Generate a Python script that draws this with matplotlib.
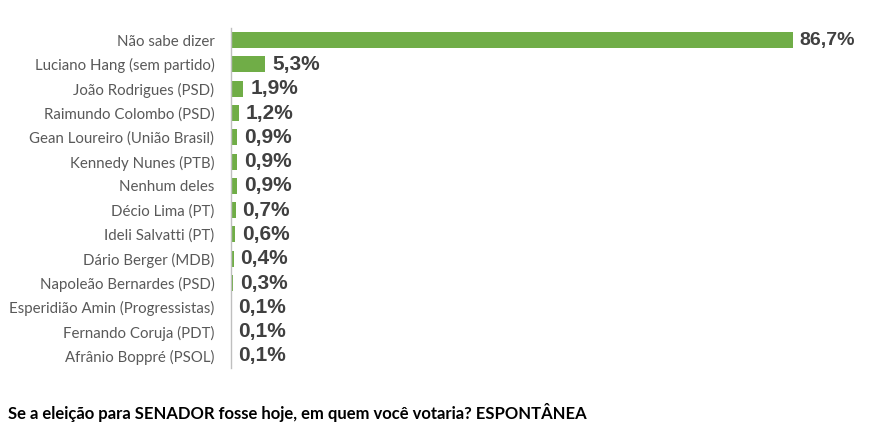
import matplotlib
matplotlib.use("Agg")
import matplotlib.pyplot as plt

# --- data
names = [
    "Não sabe dizer",
    "Luciano Hang (sem partido)",
    "João Rodrigues (PSD)",
    "Raimundo Colombo (PSD)",
    "Gean Loureiro (União Brasil)",
    "Kennedy Nunes (PTB)",
    "Nenhum deles",
    "Décio Lima (PT)",
    "Ideli Salvatti (PT)",
    "Dário Berger (MDB)",
    "Napoleão Bernardes (PSD)",
    "Esperidião Amin (Progressistas)",
    "Fernando Coruja (PDT)",
    "Afrânio Boppré (PSOL)",
]
values = [86.7, 5.3, 1.9, 1.2, 0.9, 0.9, 0.9, 0.7, 0.6, 0.4, 0.3, 0.1, 0.1, 0.1]
value_labels = ["86,7%", "5,3%", "1,9%", "1,2%", "0,9%", "0,9%", "0,9%",
                "0,7%", "0,6%", "0,4%", "0,3%", "0,1%", "0,1%", "0,1%"]
title = "Se a eleição para SENADOR fosse hoje, em quem você votaria? ESPONTÂNEA"

GREEN = "#70AD47"
LABEL_GRAY = "#595959"
VALUE_GRAY = "#404040"

fig = plt.figure(figsize=(8.8, 4.41), dpi=100)
ax = fig.add_axes([231 / 880, 1 - 368 / 441, (836 - 231) / 880, (368 - 28) / 441])

pos = list(range(len(names)))
ax.barh(pos, values, height=0.66, color=GREEN)
ax.set_ylim(len(names) - 0.5, -0.5)
ax.set_xlim(0, (836 - 231) / 6.48)

for i, (p, v, lab) in enumerate(zip(pos, values, value_labels)):
    # the first label is drawn smaller in the original
    size = 14 if i == 0 else 15
    ax.annotate(lab, (v, p), xytext=(5, 0), textcoords="offset points",
                va="center", ha="left", fontsize=size, fontweight="bold",
                family="Liberation Sans", color=VALUE_GRAY)

ax.set_yticks(pos)
ax.set_yticklabels(names, family="Lato", fontsize=10.8, color=LABEL_GRAY)
ax.tick_params(axis="y", length=0, pad=12)
ax.set_xticks([])
for side in ["top", "right", "bottom"]:
    ax.spines[side].set_visible(False)
ax.spines["left"].set_color("#BFBFBF")
ax.spines["left"].set_linewidth(1)

fig.text(8 / 880, 1 - 413 / 441, title, ha="left", va="center",
         family="Lato", fontweight="bold", fontsize=12, color="black")

fig.savefig("out.png", dpi=100)
